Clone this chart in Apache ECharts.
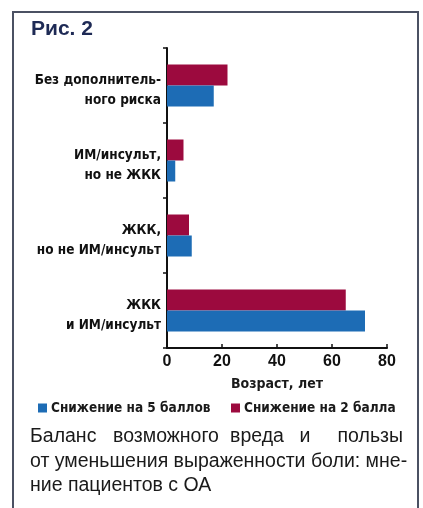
<!DOCTYPE html>
<html><head><meta charset="utf-8">
<script src="https://cdn.jsdelivr.net/npm/echarts@6/dist/echarts.min.js"></script>
<style>html,body{margin:0;padding:0;background:#fff}#c{width:423px;height:508px}</style>
</head><body><div id="c"></div>
<script>
const categories = ["ЖКК\nи ИМ/инсульт", "ЖКК,\nно не ИМ/инсульт", "ИМ/инсульт,\nно не ЖКК", "Без дополнитель-\nного риска"];
const seriesNames = ["Снижение на 5 баллов", "Снижение на 2 балла"];
const values5 = [72, 9, 3, 17];
const values2 = [65, 8, 6, 22];
const xTicks = [0, 20, 40, 60, 80];
const xAxisName = "Возраст, лет";
const titleText = "Рис. 2";
const captionLine1 = ["Баланс", "возможного", "вреда", "и", "пользы"];
const captionLine2 = "от уменьшения выраженности боли: мне-";
const captionLine3 = "ние пациентов с ОА";

const BLUE = '#1d6cb5', RED = '#9c0a3e';
const NARROW = '"DejaVu Sans Condensed", "Liberation Sans Narrow", sans-serif';
const chart = echarts.init(document.getElementById('c'));
const capStyle = {fontFamily: '"Liberation Sans", Arial, sans-serif', fontSize: 19.5, fill: '#1a1a1a', textVerticalAlign: 'middle'};
const wordPos = [[30, 'left'], [166, 'center'], [257, 'center'], [305, 'center'], [403, 'right']];
const graphic = [
  {type: 'rect', shape: {x: 13, y: 12, width: 405, height: 510}, style: {fill: 'none', stroke: '#4b5163', lineWidth: 2}, z: 10}
];
captionLine1.forEach((w, i) => {
  graphic.push({type: 'text', x: wordPos[i][0], y: 437,
    style: Object.assign({}, capStyle, {text: w, textAlign: wordPos[i][1]})});
});
graphic.push({type: 'text', x: 30, y: 462, style: Object.assign({}, capStyle, {text: captionLine2})});
graphic.push({type: 'text', x: 30, y: 486, style: Object.assign({}, capStyle, {text: captionLine3})});

const legendText = {fontFamily: NARROW, fontSize: 13.5, fontWeight: 'bold', color: '#1a1a1a', padding: [0, 0, 0, -1]};
const labelStyle = {fontFamily: NARROW, fontSize: 13.5, fontWeight: 'bold', color: '#111', lineHeight: 20, align: 'right'};
chart.setOption({
  animation: false,
  title: {text: titleText, left: 26, top: 14, textStyle: {fontFamily: '"Liberation Sans", Arial, sans-serif', fontSize: 21, fontWeight: 900, color: '#1e2a55'}},
  graphic: graphic,
  legend: [
    {left: 38, top: 401, padding: 0, itemWidth: 9, itemHeight: 9, icon: 'rect', textStyle: legendText, data: [seriesNames[0]]},
    {left: 231, top: 401, padding: 0, itemWidth: 9, itemHeight: 9, icon: 'rect', textStyle: legendText, data: [seriesNames[1]]}
  ],
  grid: {left: 167, right: 36, top: 48, bottom: 160, containLabel: false},
  xAxis: {
    type: 'value', min: xTicks[0], max: xTicks[xTicks.length - 1], interval: 20,
    name: xAxisName, nameLocation: 'middle', nameGap: 29,
    nameTextStyle: {fontFamily: NARROW, fontSize: 14, fontWeight: 'bold', color: '#1a1a1a'},
    axisLine: {show: true, lineStyle: {color: '#111', width: 2}},
    axisTick: {show: true, inside: true, length: 4, lineStyle: {color: '#111', width: 1.5}},
    splitLine: {show: false},
    axisLabel: {fontFamily: '"Liberation Sans", Arial, sans-serif', fontSize: 16, fontWeight: 'bold', color: '#111', margin: 6}
  },
  yAxis: {
    type: 'category', data: categories,
    axisLine: {show: true, lineStyle: {color: '#111', width: 2}},
    axisTick: {show: true, length: 4, lineStyle: {color: '#111', width: 1.5}},
    axisLabel: {
      margin: 6, align: 'right',
      formatter: v => '{s|}\n' + v.split('\n').map(s => '{a|' + s + '}').join('\n'),
      rich: {s: {lineHeight: 10, fontSize: 1}, a: labelStyle}
    }
  },
  series: [
    {name: seriesNames[1], type: 'bar', data: values2, barWidth: 21, barGap: '0%', itemStyle: {color: RED}},
    {name: seriesNames[0], type: 'bar', data: values5, barWidth: 21, barGap: '0%', itemStyle: {color: BLUE}}
  ]
});
</script></body></html>
